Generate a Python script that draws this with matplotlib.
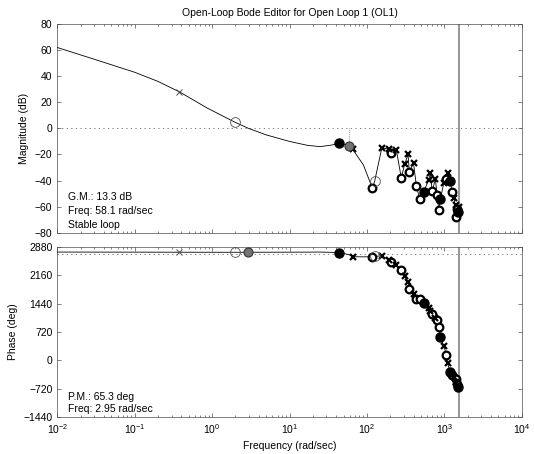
import numpy as np
import matplotlib
matplotlib.use("Agg")
import matplotlib.pyplot as plt
from matplotlib.ticker import FixedLocator, NullFormatter

plt.rcParams['font.family'] = ['Liberation Sans', 'DejaVu Sans']
plt.rcParams['font.size'] = 7.5

# Open-loop response
freq = [0.01, 0.03, 0.1, 0.2, 0.378, 0.87, 1.96, 2.95, 5, 10, 17, 24.8, 35, 43.7,
        58.1, 65.5, 90, 118, 126, 156, 195, 204, 240, 278, 307, 340, 353, 400,
        436, 481, 541, 628, 661, 695, 767, 807, 847, 891, 983, 1064, 1107, 1175,
        1265, 1349, 1400, 1432, 1466, 1507, 1530]
mag_db = [62, 53, 43, 36, 28, 15.5, 4.8, 0, -5, -10, -13, -14, -12.8, -11.5,
          -13.3, -16.1, -28, -46, -40.4, -14.9, -16.1, -19.2, -16.6, -37.9, -27.6,
          -19.9, -33.3, -26.8, -44.2, -54.2, -48.6, -39.6, -34, -48, -39.1, -51.1,
          -62.6, -54.2, -42, -39.1, -34.5, -40, -48.6, -53.7, -67.8, -58.8, -62,
          -64, -60]
phase_deg = [2752, 2751, 2750, 2749, 2748, 2747, 2747, 2747, 2748, 2749, 2750,
             2752, 2745, 2735, 2690, 2634, 2630, 2634, 2640, 2659, 2540, 2507, 2423,
             2296, 2143, 1990, 1806, 1679, 1552, 1565, 1465, 1323, 1250, 1171, 1069,
             1026, 856, 602, 365, 137, -74, -287, -371, -430, -480, -541, -600, -668,
             -690]
# x = pole, o = zero, f = filled, t = thin circle, pm / gm = margin markers
marks = ['', '', '', '', 'xt', '', 't', 'pm', '', '', '', '', '', 'f',
         'gm', 'x', '', 'o', 't', 'x', 'x', 'o', 'x', 'o', 'x', 'x',
         'o', 'x', 'o', 'o', 'f', 'x', 'x', 'o', 'x', 'o', 'o', 'f', 'x',
         'o', 'x', 'f', 'o', 'x', 'o', 'x', 'o', 'f', 'x']

nyquist = 1535
gm_freq, gm_db = 58.1, -13.3
cross_phase = 2700

mag_ticks = [-80, -60, -40, -20, 0, 20, 40, 60, 80]
phase_ticks = [-1440, -720, 0, 720, 1440, 2160, 2880]

fig = plt.figure(figsize=(5.34, 4.54), dpi=100)
ax1 = fig.add_axes([0.1073, 0.4874, 0.8697, 0.4597])
ax2 = fig.add_axes([0.1073, 0.0815, 0.8697, 0.3744])

styles = {
    'o': dict(marker='o', ms=5.5, mfc='white', mec='black', mew=1.6),
    'x': dict(marker='x', ms=4.5, mec='black', mew=1.6),
    'xt': dict(marker='x', ms=5, mec='0.3', mew=0.7),
    'f': dict(marker='o', ms=6.5, mfc='black', mec='black', mew=1),
    't': dict(marker='o', ms=7, mfc='none', mec='0.3', mew=0.6),
}

f = np.array(freq)
for ax, vals in ((ax1, np.array(mag_db)), (ax2, np.array(phase_deg))):
    ax.plot(f, vals, color='black', lw=0.6, zorder=3)
    for code, st in styles.items():
        sel = np.array([m == code for m in marks])
        ax.plot(f[sel], vals[sel], ls='none', zorder=4, **st)
    ax.axvline(nyquist, color='0.6', lw=1.5, zorder=2)
    ax.set_xscale('log')
    ax.set_xlim(1e-2, 1e4)
    ax.xaxis.set_minor_formatter(NullFormatter())
    ax.tick_params(which='both', direction='in', top=True, right=True,
                   width=0.5, color='0.3', labelsize=7.5)
    ax.tick_params(which='major', length=3)
    ax.tick_params(which='minor', length=1.5)
    for sp in ax.spines.values():
        sp.set_linewidth(0.5)
        sp.set_color('0.3')

# margin markers
sel = np.array([m == 'gm' for m in marks])
ax1.plot(f[sel], np.array(mag_db)[sel], ls='none', marker='o', ms=6.5,
         mfc='0.45', mec='0.2', mew=0.8, zorder=5)
ax1.plot([gm_freq, gm_freq], [0, gm_db], color='0.3', lw=0.5, ls=':', zorder=2)
sel = np.array([m == 'pm' for m in marks])
ax2.plot(f[sel], np.array(phase_deg)[sel], ls='none', marker='o', ms=6.5,
         mfc='0.45', mec='0.2', mew=0.8, zorder=5)

ax1.axhline(0, color='0.4', lw=0.6, ls=(0, (1.5, 4)), zorder=1)
ax2.axhline(cross_phase, color='0.4', lw=0.6, ls=(0, (1.5, 4)), zorder=1)

ax1.set_ylim(-80, 80)
ax1.yaxis.set_major_locator(FixedLocator(mag_ticks))
ax1.xaxis.set_major_formatter(NullFormatter())
ax1.set_ylabel('Magnitude (dB)')
ax1.set_title('Open-Loop Bode Editor for Open Loop 1 (OL1)', fontsize=7.5, pad=6)

ax2.set_ylim(-1440, 2880)
ax2.yaxis.set_major_locator(FixedLocator(phase_ticks))
ax2.set_ylabel('Phase (deg)')
ax2.set_xlabel('Frequency (rad/sec)', labelpad=4)

ax1.text(0.022, 0.171, 'G.M.: 13.3 dB', transform=ax1.transAxes, va='center')
ax1.text(0.022, 0.102, 'Freq: 58.1 rad/sec', transform=ax1.transAxes, va='center')
ax1.text(0.022, 0.038, 'Stable loop', transform=ax1.transAxes, va='center')
ax2.text(0.022, 0.118, 'P.M.: 65.3 deg', transform=ax2.transAxes, va='center')
ax2.text(0.022, 0.045, 'Freq: 2.95 rad/sec', transform=ax2.transAxes, va='center')

fig.savefig('out.png', dpi=100)
